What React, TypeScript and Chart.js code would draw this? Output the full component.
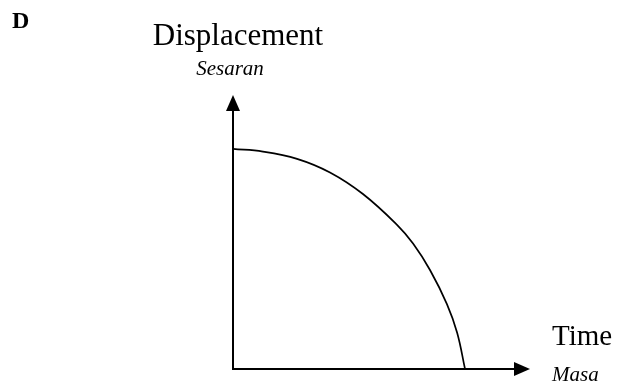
import React, { useEffect, useRef } from "react";
import { Chart, registerables } from "chart.js";

Chart.register(...registerables);

// Data (time normalised 0..1, displacement normalised 0..1)
const timeValues = [0, 0.129, 0.276, 0.418, 0.56, 0.707, 0.776, 0.849, 0.922, 0.966, 1];
const displacementValues = [1, 0.988, 0.955, 0.893, 0.795, 0.655, 0.57, 0.45, 0.295, 0.165, 0];
const xAxisMax = 1.28;
const yAxisMax = 1.245;

const panelLabel = "D";
const yTitle = "Displacement";
const yTitleAlt = "Sesaran";
const xTitle = "Time";
const xTitleAlt = "Masa";

const SERIF = '"Liberation Serif", "Times New Roman", serif';

const axesPlugin = {
  id: "arrowAxes",
  beforeDatasetsDraw(chart: any) {
    const { ctx, scales } = chart;
    const xs = scales.x;
    const ys = scales.y;
    const x0 = xs.getPixelForValue(0);
    const y0 = ys.getPixelForValue(0);
    const xEnd = xs.getPixelForValue(xAxisMax);
    const yEnd = ys.getPixelForValue(yAxisMax);
    const head = 16;
    const half = 7;
    ctx.save();
    ctx.strokeStyle = "#000";
    ctx.fillStyle = "#000";
    ctx.lineWidth = 2;
    ctx.lineCap = "butt";
    // y axis
    ctx.beginPath();
    ctx.moveTo(x0, y0 + 1);
    ctx.lineTo(x0, yEnd + head - 1);
    ctx.stroke();
    ctx.beginPath();
    ctx.moveTo(x0, yEnd);
    ctx.lineTo(x0 - half, yEnd + head);
    ctx.lineTo(x0 + half, yEnd + head);
    ctx.closePath();
    ctx.fill();
    // x axis
    ctx.beginPath();
    ctx.moveTo(x0 - 1, y0);
    ctx.lineTo(xEnd - head + 1, y0);
    ctx.stroke();
    ctx.beginPath();
    ctx.moveTo(xEnd, y0);
    ctx.lineTo(xEnd - head, y0 - half);
    ctx.lineTo(xEnd - head, y0 + half);
    ctx.closePath();
    ctx.fill();
    ctx.restore();
  },
  afterDraw(chart: any) {
    const { ctx, scales } = chart;
    const xs = scales.x;
    const ys = scales.y;
    const x0 = xs.getPixelForValue(0);
    const y0 = ys.getPixelForValue(0);
    const xEnd = xs.getPixelForValue(xAxisMax);
    const yEnd = ys.getPixelForValue(yAxisMax);
    ctx.save();
    ctx.fillStyle = "#000";
    ctx.textBaseline = "alphabetic";
    ctx.textAlign = "left";
    ctx.font = `bold 24px ${SERIF}`;
    ctx.fillText(panelLabel, 12, 28);

    ctx.textAlign = "center";
    ctx.font = `31px ${SERIF}`;
    ctx.fillText(yTitle, x0 + 5, yEnd - 50);
    ctx.font = `italic 21px ${SERIF}`;
    ctx.fillText(yTitleAlt, x0 - 3, yEnd - 20);

    ctx.textAlign = "left";
    ctx.font = `29px ${SERIF}`;
    ctx.fillText(xTitle, xEnd + 22, y0 - 24);
    ctx.font = `italic 21px ${SERIF}`;
    ctx.fillText(xTitleAlt, xEnd + 22, y0 + 12);
    ctx.restore();
  },
};

export default function App() {
  const canvasRef = useRef<HTMLCanvasElement | null>(null);

  useEffect(() => {
    const canvas = canvasRef.current;
    if (!canvas) return;
    const chart = new Chart(canvas, {
      type: "line",
      data: {
        datasets: [
          {
            label: "Displacement",
            data: timeValues.map((t, i) => ({ x: t, y: displacementValues[i] })),
            borderColor: "#000",
            borderWidth: 1.7,
            pointRadius: 0,
            fill: false,
            tension: 0.4,
          },
        ],
      },
      options: {
        animation: false,
        responsive: false,
        maintainAspectRatio: false,
        layout: { padding: { left: 233, right: 94, top: 95, bottom: 18 } },
        scales: {
          x: { type: "linear", min: 0, max: xAxisMax, display: false },
          y: { type: "linear", min: 0, max: yAxisMax, display: false },
        },
        plugins: {
          legend: { display: false },
          tooltip: { enabled: false },
          title: { display: false },
        },
      },
      plugins: [axesPlugin],
    });
    return () => chart.destroy();
  }, []);

  return (
    <div style={{ position: "absolute", left: 0, top: 0, width: 624, height: 387, background: "#fff" }}>
      <canvas ref={canvasRef} width={624} height={387} style={{ display: "block" }} />
    </div>
  );
}
